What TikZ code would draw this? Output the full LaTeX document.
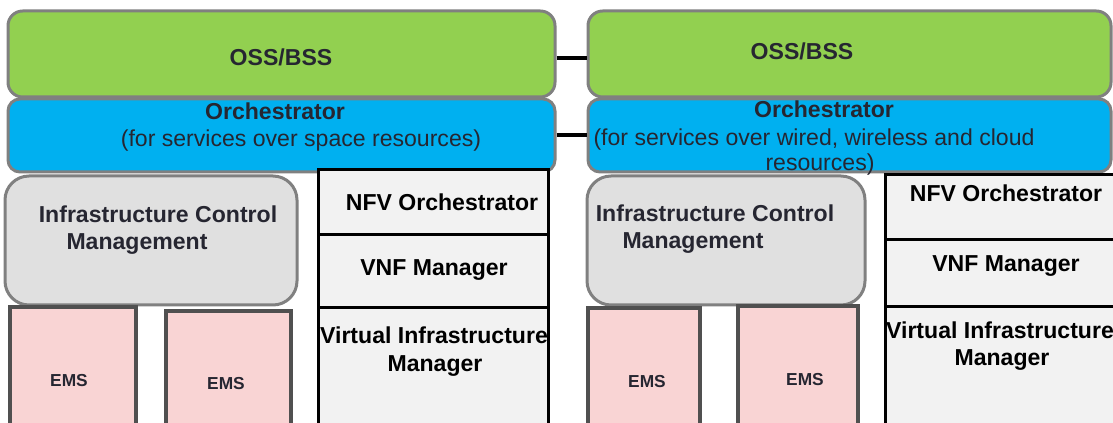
\documentclass[tikz,border=0pt]{standalone}
\usepackage{fontspec}
\setmainfont{Liberation Sans}
\usetikzlibrary{fit}
\definecolor{ossgreen}{HTML}{92D050}
\definecolor{orchblue}{HTML}{00B0F0}
\definecolor{icmgray}{HTML}{E0E0E0}
\definecolor{emspink}{HTML}{F9D4D4}
\definecolor{nfvgray}{HTML}{F2F2F2}
\definecolor{rimgray}{HTML}{808080}
\definecolor{emsrim}{HTML}{505050}
\definecolor{txt}{HTML}{262631}
\tikzset{
  frame/.style={inner sep=0pt, line width=2.25pt},
  ossbox/.style={frame, draw=rimgray, fill=ossgreen, rounded corners=11pt},
  orchbox/.style={frame, draw=rimgray, fill=orchblue, rounded corners=9pt},
  icmbox/.style={frame, draw=rimgray, fill=icmgray, rounded corners=18pt},
  emsbox/.style={frame, draw=emsrim, fill=emspink, line width=2.8pt},
  nfvbox/.style={frame, draw=black, fill=nfvgray},
  bold/.style={font=\fontsize{17.3}{20}\selectfont\bfseries, text=txt, inner sep=0pt, anchor=base},
  blk/.style={font=\fontsize{17.3}{20}\selectfont\bfseries, text=black, inner sep=0pt, anchor=base},
  plain/.style={font=\fontsize{17.3}{20}\selectfont, text=txt, inner sep=0pt, anchor=base},
  small/.style={font=\fontsize{13}{15}\selectfont\bfseries, text=txt, inner sep=0pt, anchor=base},
  conn/.style={draw=black, line width=3pt},
}
\begin{document}
\begin{tikzpicture}[x=0.75pt,y=-0.75pt]
\useasboundingbox (0,0) rectangle (1113,423);
\clip (0,0) rectangle (1113,423);
% top layers
\node[ossbox, fit={(8,11) (555,97)}] (ossL) {};
\node[ossbox, fit={(588,11) (1111,97)}] (ossR) {};
\node[orchbox, fit={(8,99) (555,172)}] (orchL) {};
\node[orchbox, fit={(588,99) (1111,172)}] (orchR) {};
% connectors
\coordinate (yA) at (0,58);
\coordinate (yB) at (0,135);
\draw[conn] (ossL.east |- yA) -- (ossR.west |- yA);
\draw[conn] (orchL.east |- yB) -- (orchR.west |- yB);
% left side
\node[icmbox, fit={(5,176) (297,305)}] (icmL) {};
\node[nfvbox, fit={(318,170) (548,235)}] (nfvL) {};
\node[nfvbox, fit={(318,235) (548,308)}] (vnfL) {};
\node[nfvbox, fit={(318,308) (548,426)}] (vimL) {};
\node[emsbox, fit={(10,307) (136,426)}] (emsL1) {};
\node[emsbox, fit={(166,311) (291,426)}] (emsL2) {};
% right side
\node[icmbox, fit={(587,176) (865,305)}] (icmR) {};
\node[nfvbox, fit={(885,175) (1118,240)}] (nfvR) {};
\node[nfvbox, fit={(885,240) (1118,307)}] (vnfR) {};
\node[nfvbox, fit={(885,307) (1118,426)}] (vimR) {};
\node[emsbox, fit={(588,308) (700,426)}] (emsR1) {};
\node[emsbox, fit={(738,306) (858,426)}] (emsR2) {};
% texts
\node[bold] (tOssL) at (281,66) {OSS/BSS};
\node[bold] (tOssR) at (802,60) {OSS/BSS};
\node[bold] (tOrchL) at (275,120) {Orchestrator};
\node[plain] (tOrchL2) at (301,147) {(for services over space resources)};
\node[bold] (tOrchR) at (824,118) {Orchestrator};
\node[plain] (tOrchR2) at (814,146) {(for services over wired, wireless and cloud};
\node[plain] (tOrchR3) at (820,171) {resources)};
\node[bold] (tIcmL) at (158,223) {Infrastructure Control};
\node[bold] (tIcmL2) at (137,250) {Management};
\node[bold] (tIcmR) at (715,222) {Infrastructure Control};
\node[bold] (tIcmR2) at (693,249) {Management};
\node[blk] (tNfvL) at (442,211) {NFV Orchestrator};
\node[blk] (tVnfL) at (434,276) {VNF Manager};
\node[blk] (tVimL) at (434,344) {Virtual Infrastructure};
\node[blk] (tVimL2) at (435,372) {Manager};
\node[blk] (tNfvR) at (1006,202) {NFV Orchestrator};
\node[blk] (tVnfR) at (1006,272) {VNF Manager};
\node[blk] (tVimR) at (1000,339) {Virtual Infrastructure};
\node[blk] (tVimR2) at (1002,366) {Manager};
\node[small] (tEmsL1) at (69,387) {EMS};
\node[small] (tEmsL2) at (226,390) {EMS};
\node[small] (tEmsR1) at (647,388) {EMS};
\node[small] (tEmsR2) at (805,386) {EMS};
\end{tikzpicture}
\end{document}
